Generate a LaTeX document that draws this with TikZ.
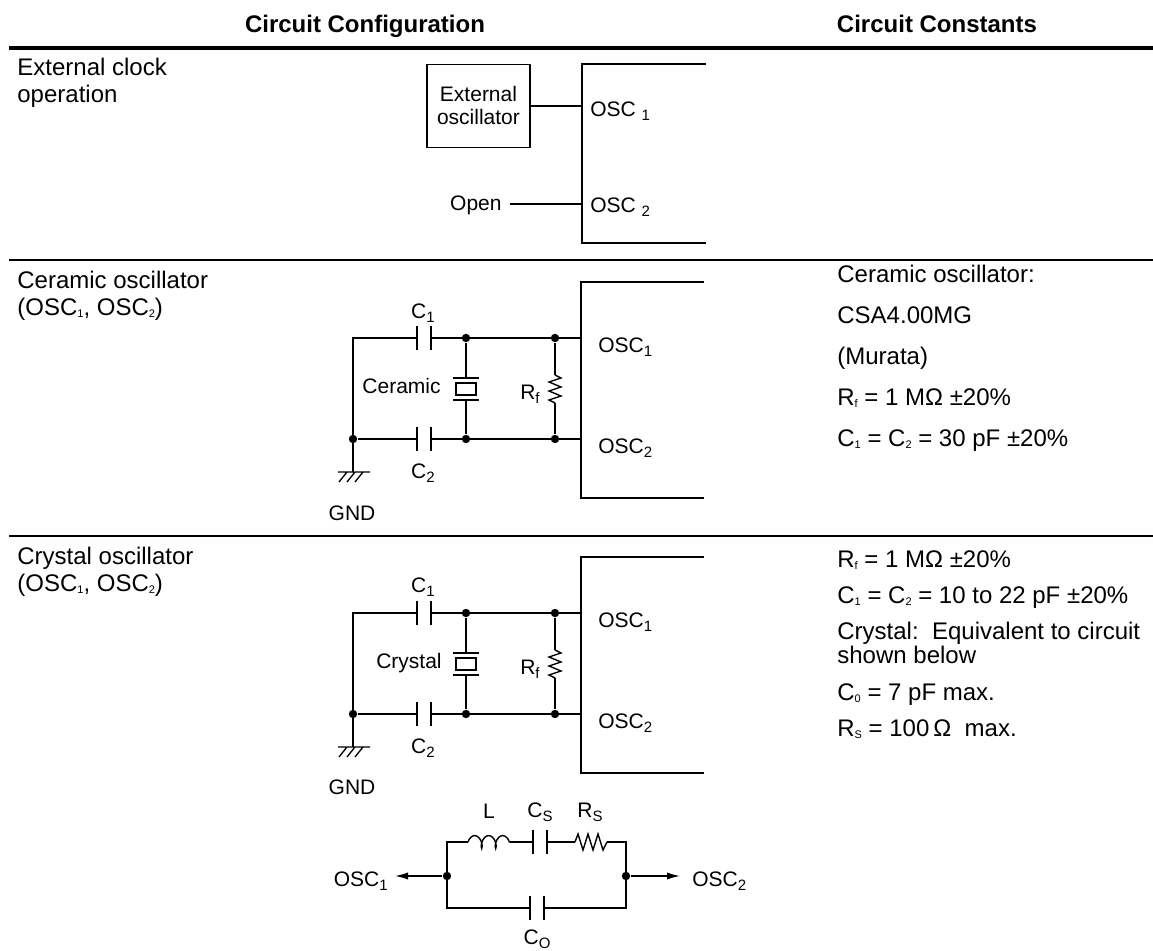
\documentclass[tikz,border=0pt]{standalone}
\usepackage{fontspec}
\setmainfont{Liberation Sans}
\usepackage{tikz}
\usetikzlibrary{positioning}
\usetikzlibrary{arrows.meta, decorations.pathmorphing}
\tikzstyle{wire} = [line width=0.7pt]
\tikzstyle{rule} = [line width=0.7pt]
\tikzstyle{headrule} = [line width=1.6pt]
\tikzstyle{dot} = [circle, fill=black, inner sep=0pt, minimum size=4.2pt]
\tikzstyle{txt} = [inner sep=0pt, anchor=base west, font=\fontsize{12}{14}\selectfont]
\tikzstyle{head} = [inner sep=0pt, anchor=base, font=\bfseries\fontsize{12}{14}\selectfont]
\tikzstyle{lbl} = [inner sep=0pt, font=\fontsize{10.5}{11.5}\selectfont]
\tikzstyle{arrow} = [line width=0.7pt, -{Latex[length=6.5pt,width=3.6pt]}]
\tikzset{
  capv/.pic={\draw[wire] (-7,-12) -- (-7,12) (7,-12) -- (7,12);},
  resonator/.pic={\draw[wire] (-13,-11) -- (13,-11) (-13,11) -- (13,11) (-10,-6) rectangle (10,6);},
  zigv/.pic={\draw[wire] (0,-14) -- (6,-11) -- (-6,-7) -- (6,-2) -- (-6,2) -- (6,7) -- (-6,11) -- (0,14);},
  zigh/.pic={\draw[wire] (-16,0) -- (-13,-8) -- (-8,8) -- (-3,-8) -- (2,8) -- (7,-8) -- (12,8) -- (16,0);},
  earth/.pic={\draw[wire] (-15,0) -- (17,0) (-6,0) -- (-14,10) (2,0) -- (-6,10) (10,0) -- (2,10);}
}
\newcommand{\csub}[1]{\raisebox{-1.6pt}{\fontsize{7.5}{8}\selectfont #1}}
\newcommand{\tsub}[1]{\raisebox{-1pt}{\fontsize{5.5}{6}\selectfont #1}}

\begin{document}
\begin{tikzpicture}[x=0.5pt, y=-0.5pt]
\useasboundingbox (0,0) rectangle (1153,951);

% table head and rules
\node (headcfg) [head] at (365,33) {Circuit Configuration};
\node (headconst) [head] at (937,33) {Circuit Constants};
\draw [headrule] (9,48) -- (1153,48);
\draw [rule] (9,260) -- (1153,260);
\draw [rule] (9,536) -- (1153,536);

% external clock
\node (extname) [txt] at (17,76) {External clock};
\node (extnameb) [txt] at (17,103) {operation};
\node (extosc) [draw, wire, lbl, align=center, minimum width=51.5pt, minimum height=41.5pt] at (478.5,106) {External\\oscillator};
\coordinate (extpin1) at (582,106);
\coordinate (extpin2) at (582,204);
\node (open) [lbl, anchor=base east] at (502,211) {Open};
\draw [wire] (706,64) -- (582,64) -- (582,243) -- (706,243);
\draw [wire] (extosc) -- (extpin1);
\draw [wire] ([xshift=4pt]open.east |- extpin2) -- (extpin2);
\node (extosc1) [lbl, anchor=base west] at (590,117) {OSC\ \csub{1}};
\node (extosc2) [lbl, anchor=base west] at (590,213) {OSC\ \csub{2}};

% ceramic oscillator
\node (cername) [txt] at (17,289) {Ceramic oscillator};
\node (cernameb) [txt] at (17,316) {(OSC\tsub{1}, OSC\tsub{2})};
\coordinate (cercorner) at (353,338);
\node (cerjoin) [dot] at (353,439) {};
\coordinate (cergnd) at (353,472);
\coordinate (cerc1) at (424,338);
\coordinate (cerc2) at (424,439);
\node (cerx1) [dot] at (466,338) {};
\node (cerx2) [dot] at (466,439) {};
\coordinate (cerres) at (466,389);
\node (cerr1) [dot] at (555,338) {};
\node (cerr2) [dot] at (555,439) {};
\coordinate (cerrf) at (555,389);
\coordinate (cerpin1) at (581,338);
\coordinate (cerpin2) at (581,439);
\draw [wire] (704,282) -- (581,282) -- (581,498) -- (704,498);
\draw [wire] (cergnd) -- (cercorner) -- ([xshift=-3.5pt]cerc1);
\draw [wire] ([xshift=3.5pt]cerc1) -- (cerpin1);
\draw [wire] (cerjoin) -- ([xshift=-3.5pt]cerc2);
\draw [wire] ([xshift=3.5pt]cerc2) -- (cerpin2);
\draw [wire] (cerx1) -- ([yshift=5.5pt]cerres);
\draw [wire] ([yshift=-5.5pt]cerres) -- (cerx2);
\draw [wire] (cerr1) -- ([yshift=7pt]cerrf);
\draw [wire] ([yshift=-7pt]cerrf) -- (cerr2);
\pic at (cerc1) {capv};
\pic at (cerc2) {capv};
\pic at (cerres) {resonator};
\pic at (cerrf) {zigv};
\pic at (cergnd) {earth};
\node (cerc1lbl) [lbl, anchor=base] at (423,319) {C\csub{1}};
\node (cerc2lbl) [lbl, anchor=base] at (423,479) {C\csub{2}};
\node (cerreslbl) [lbl, anchor=base east] at (441,394) {Ceramic};
\node (cerrflbl) [lbl, anchor=base east] at (540,400) {R\csub{f}};
\node (cergndlbl) [lbl, anchor=base] at (352,521) {GND};
\node (cerosc1) [lbl, anchor=base west] at (598,353) {OSC\csub{1}};
\node (cerosc2) [lbl, anchor=base west] at (598,454) {OSC\csub{2}};
\node (cerk1) [txt] at (837,283) {Ceramic oscillator:};
\node (cerk2) [txt] at (837,324) {CSA4.00MG};
\node (cerk3) [txt] at (837,365) {(Murata)};
\node (cerk4) [txt] at (837,406) {R\tsub{f} = 1 MΩ ±20\%};
\node (cerk5) [txt] at (837,447) {C\tsub{1} = C\tsub{2} = 30 pF ±20\%};

% crystal oscillator
\node (xtlname) [txt] at (17,565) {Crystal oscillator};
\node (xtlnameb) [txt] at (17,592) {(OSC\tsub{1}, OSC\tsub{2})};
\coordinate (xtlcorner) at (353,613);
\node (xtljoin) [dot] at (353,714) {};
\coordinate (xtlgnd) at (353,747);
\coordinate (xtlc1) at (424,613);
\coordinate (xtlc2) at (424,714);
\node (xtlx1) [dot] at (466,613) {};
\node (xtlx2) [dot] at (466,714) {};
\coordinate (xtlres) at (466,664);
\node (xtlr1) [dot] at (555,613) {};
\node (xtlr2) [dot] at (555,714) {};
\coordinate (xtlrf) at (555,664);
\coordinate (xtlpin1) at (581,613);
\coordinate (xtlpin2) at (581,714);
\draw [wire] (704,557) -- (581,557) -- (581,773) -- (704,773);
\draw [wire] (xtlgnd) -- (xtlcorner) -- ([xshift=-3.5pt]xtlc1);
\draw [wire] ([xshift=3.5pt]xtlc1) -- (xtlpin1);
\draw [wire] (xtljoin) -- ([xshift=-3.5pt]xtlc2);
\draw [wire] ([xshift=3.5pt]xtlc2) -- (xtlpin2);
\draw [wire] (xtlx1) -- ([yshift=5.5pt]xtlres);
\draw [wire] ([yshift=-5.5pt]xtlres) -- (xtlx2);
\draw [wire] (xtlr1) -- ([yshift=7pt]xtlrf);
\draw [wire] ([yshift=-7pt]xtlrf) -- (xtlr2);
\pic at (xtlc1) {capv};
\pic at (xtlc2) {capv};
\pic at (xtlres) {resonator};
\pic at (xtlrf) {zigv};
\pic at (xtlgnd) {earth};
\node (xtlc1lbl) [lbl, anchor=base] at (423,593) {C\csub{1}};
\node (xtlc2lbl) [lbl, anchor=base] at (423,754) {C\csub{2}};
\node (xtlreslbl) [lbl, anchor=base east] at (442,669) {Crystal};
\node (xtlrflbl) [lbl, anchor=base east] at (540,675) {R\csub{f}};
\node (xtlgndlbl) [lbl, anchor=base] at (352,795) {GND};
\node (xtlosc1) [lbl, anchor=base west] at (598,628) {OSC\csub{1}};
\node (xtlosc2) [lbl, anchor=base west] at (598,729) {OSC\csub{2}};
\node (xtlk1) [txt] at (837,568) {R\tsub{f} = 1 MΩ ±20\%};
\node (xtlk2) [txt] at (837,604) {C\tsub{1} = C\tsub{2} = 10 to 22 pF ±20\%};
\node (xtlk3) [txt] at (837,640) {Crystal:\ \ Equivalent to circuit};
\node (xtlk4) [txt] at (837,664) {shown below};
\node (xtlk5) [txt] at (837,701) {C\tsub{0} = 7 pF max.};
\node (xtlk6) [txt] at (837,737) {R\tsub{S} = 100\,Ω\ \ max.};

% crystal equivalent circuit
\coordinate (eqtl) at (447,842);
\node (eqleft) [dot] at (447,876) {};
\coordinate (eqbl) at (447,908);
\coordinate (eqtr) at (626,842);
\node (eqright) [dot] at (626,876) {};
\coordinate (eqbr) at (626,908);
\coordinate (eqind) at (489,842);
\coordinate (eqcs) at (540,842);
\coordinate (eqrs) at (591,842);
\coordinate (eqco) at (537,908);
\coordinate (eqtip1) at (395,876);
\coordinate (eqtip2) at (680,876);
\draw [wire] ([xshift=-10.5pt]eqind) -- (eqtl) -- (eqbl) -- ([xshift=-3.5pt]eqco);
\draw [wire] ([xshift=3.5pt]eqco) -- (eqbr) -- (eqtr) -- ([xshift=8pt]eqrs);
\draw [wire] ([xshift=10.5pt]eqind) -- ([xshift=-3.5pt]eqcs);
\draw [wire] ([xshift=3.5pt]eqcs) -- ([xshift=-8pt]eqrs);
\draw [wire, decorate, decoration={coil, aspect=0.5, amplitude=3.2pt, segment length=7pt}] ([xshift=-10.5pt]eqind) -- ([xshift=10.5pt]eqind);
\pic at (eqcs) {capv};
\pic at (eqco) {capv};
\pic at (eqrs) {zigh};
\draw [arrow] (eqleft) -- (eqtip1);
\draw [arrow] (eqright) -- (eqtip2);
\node (eqosc1) [lbl, anchor=base east] at (388,887) {OSC\csub{1}};
\node (eqosc2) [lbl, anchor=base west] at (692,887) {OSC\csub{2}};
\node (eqindlbl) [lbl, anchor=base] at (489,819) {L};
\node (eqcslbl) [lbl, anchor=base] at (540,818) {C\csub{S}};
\node (eqrslbl) [lbl, anchor=base] at (590,818) {R\csub{S}};
\node (eqcolbl) [lbl, anchor=base] at (537,945) {C\csub{O}};

\end{tikzpicture}
\end{document}
